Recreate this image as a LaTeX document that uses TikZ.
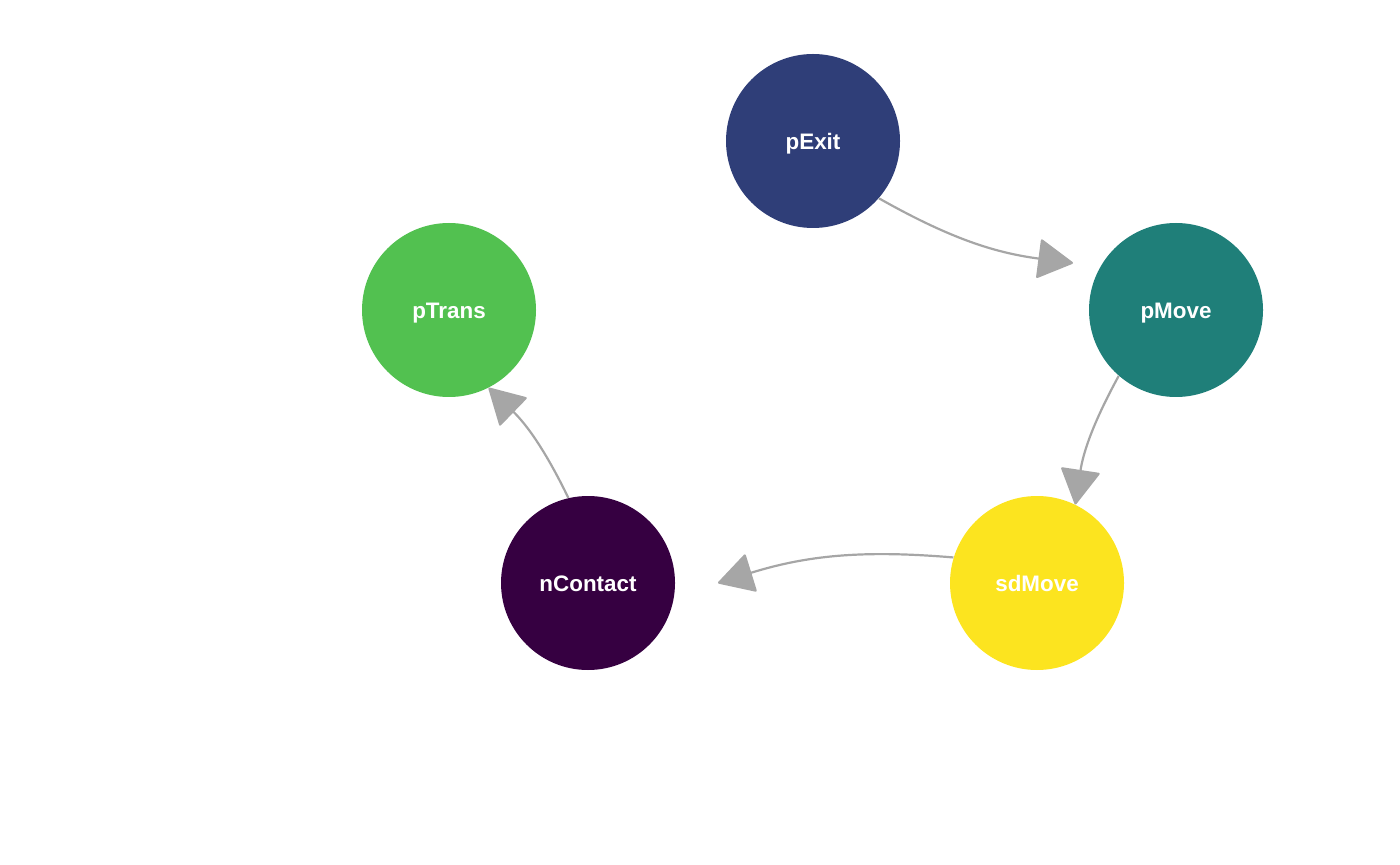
\documentclass[tikz,border=0pt]{standalone}
\usepackage{fontspec}
\setmainfont{Liberation Sans}
\usetikzlibrary{arrows.meta,calc}
\definecolor{exitblue}{HTML}{2F3E78}
\definecolor{moveteal}{HTML}{1F7F79}
\definecolor{transgreen}{HTML}{52C150}
\definecolor{contactpurple}{HTML}{360041}
\definecolor{sdyellow}{HTML}{FCE41F}
\definecolor{edgegray}{HTML}{A6A6A6}
\tikzset{
  state/.style={circle, draw=none, fill=#1, minimum size=87pt, inner sep=0pt,
    text=white, text height=8.7pt, text depth=0pt,
    font=\fontsize{11.2pt}{13pt}\selectfont\bfseries},
  link/.style={draw=edgegray, line width=1.1pt,
    -{Triangle[length=18pt, width=20pt, round]}}
}
\begin{document}
\begin{tikzpicture}[x=0.5pt, y=0.5pt]
  \useasboundingbox (0,0) rectangle (1400,-865);
  % states
  \node[state=exitblue]      (pExit)    at (813,-141)  {pExit};
  \node[state=moveteal]      (pMove)    at (1176,-310) {pMove};
  \node[state=transgreen]    (pTrans)   at (449,-310)  {pTrans};
  \node[state=contactpurple] (nContact) at (588,-583)  {nContact};
  \node[state=sdyellow]      (sdMove)   at (1037,-583) {sdMove};
  % arrow tips that stop short of their target
  \coordinate (pMoveIn)    at ($(pMove)+(155.5:56.6pt)$);
  \coordinate (nContactIn) at ($(nContact)+(0:65pt)$);
  % transitions
  \draw[link] (pExit.-41) to[bend right=11] (pMoveIn);
  \draw[link] (pMove.229) to[bend right=10] (sdMove.64);
  \draw[link] (sdMove.163) to[bend right=11] (nContactIn);
  \draw[link] (nContact.103) to[bend right=10] (pTrans.297);
\end{tikzpicture}
\end{document}
